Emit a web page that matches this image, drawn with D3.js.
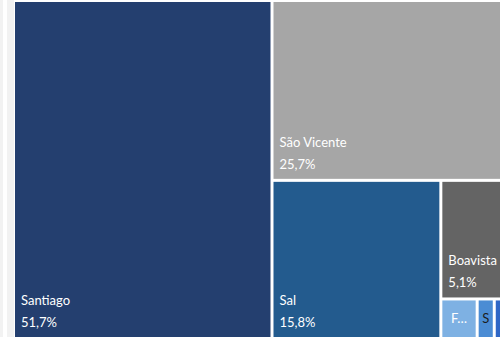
<!DOCTYPE html>
<html>
<head>
<meta charset="utf-8">
<script src="https://cdn.jsdelivr.net/npm/d3@7"></script>
<style>
  html, body { margin: 0; padding: 0; background: #fff; }
  svg { display: block; }
  text { font-family: Lato, "Noto Sans", sans-serif; font-size: 13px; }
</style>
</head>
<body>
<svg id="chart" width="500" height="337"></svg>
<script>
// Share of the national total by island (%)
const islands = ["Santiago", "São Vicente", "Sal", "Boavista", "Fogo", "Santo Antão", "São Nicolau", "Maio", "Brava"];
const shares  = [51.7, 25.7, 15.8, 5.1, 0.85, 0.4, 0.2, 0.15, 0.1];

// Fill and label ink per island
const palette  = ["#243f6f", "#a6a6a6", "#235b8e", "#646464", "#7eb1e3", "#4b8cd4", "#3067c6", "#1f4f9e", "#555555"];
const labelInk = ["#fff", "#fff", "#fff", "#fff", "#fff", "#1c1c1c", "#fff", "#fff", "#fff"];

// Islands under this share are laid out side by side in one strip
const smallLimit = 5;

const width = 500, height = 337;
const svg = d3.select("#chart");

// Page gutter on the left
svg.append("rect").attr("x", 0).attr("y", 0).attr("width", 3).attr("height", height).attr("fill", "#f2f2f2");
svg.append("rect").attr("x", 7).attr("y", 0).attr("width", 7).attr("height", height).attr("fill", "#f2f2f2");

const rows = islands.map((name, i) => ({ name, value: shares[i], idx: i }));
const data = {
  name: "Cabo Verde",
  children: [
    ...rows.filter(d => d.value >= smallLimit),
    { name: "Outras", children: rows.filter(d => d.value < smallLimit) }
  ]
};

const root = d3.hierarchy(data).sum(d => d.children ? 0 : d.value);
const total = root.value;

const squarify = d3.treemapSquarify.ratio(1);
const tile = (node, x0, y0, x1, y1) =>
  (node.depth === 0 ? squarify : d3.treemapDice)(node, x0, y0, x1, y1);

d3.treemap()
  .size([497, 335])
  .paddingInner(3)
  .tile(tile)(root);

const fmt = v => d3.format(".1f")(v).replace(".", ",") + "%";

const g = svg.append("g").attr("transform", "translate(15,2)");

const cell = g.selectAll("g.cell")
  .data(root.leaves())
  .join("g")
  .attr("class", "cell")
  .attr("transform", d => `translate(${d.x0},${d.y0})`);

cell.append("rect")
  .attr("width", d => Math.max(0, d.x1 - d.x0))
  .attr("height", d => Math.max(0, d.y1 - d.y0))
  .attr("fill", d => palette[d.data.idx]);

const pad = 6;
cell.each(function (d) {
  const el = d3.select(this);
  const w = d.x1 - d.x0, h = d.y1 - d.y0;
  const ink = labelInk[d.data.idx];
  const name = d.data.name;

  const probe = el.append("text").attr("fill", ink).text(name);
  const full = probe.node().getComputedTextLength();

  if (full <= w - 2 * pad && h > 50) {
    // Name and share stacked at the lower-left corner
    probe.attr("x", pad).attr("y", h - 32);
    el.append("text")
      .attr("x", pad).attr("y", h - 10)
      .attr("fill", ink)
      .text(fmt(d.data.value / total * 100));
    return;
  }

  // Narrow cell: single centred label, shortened with an ellipsis
  probe.attr("text-anchor", "middle").attr("x", w / 2).attr("y", h / 2 + 4.5);
  let label = null;
  for (let n = name.length - 1; n >= 1; n--) {
    probe.text(name.slice(0, n) + "…");
    if (probe.node().getComputedTextLength() <= w - 2 * pad) { label = name.slice(0, n) + "…"; break; }
  }
  if (label === null) {
    probe.text(name[0]);
    if (probe.node().getComputedTextLength() <= w - 4) label = name[0];
  }
  if (label === null) probe.remove();
  else probe.text(label);
});
</script>
</body>
</html>
